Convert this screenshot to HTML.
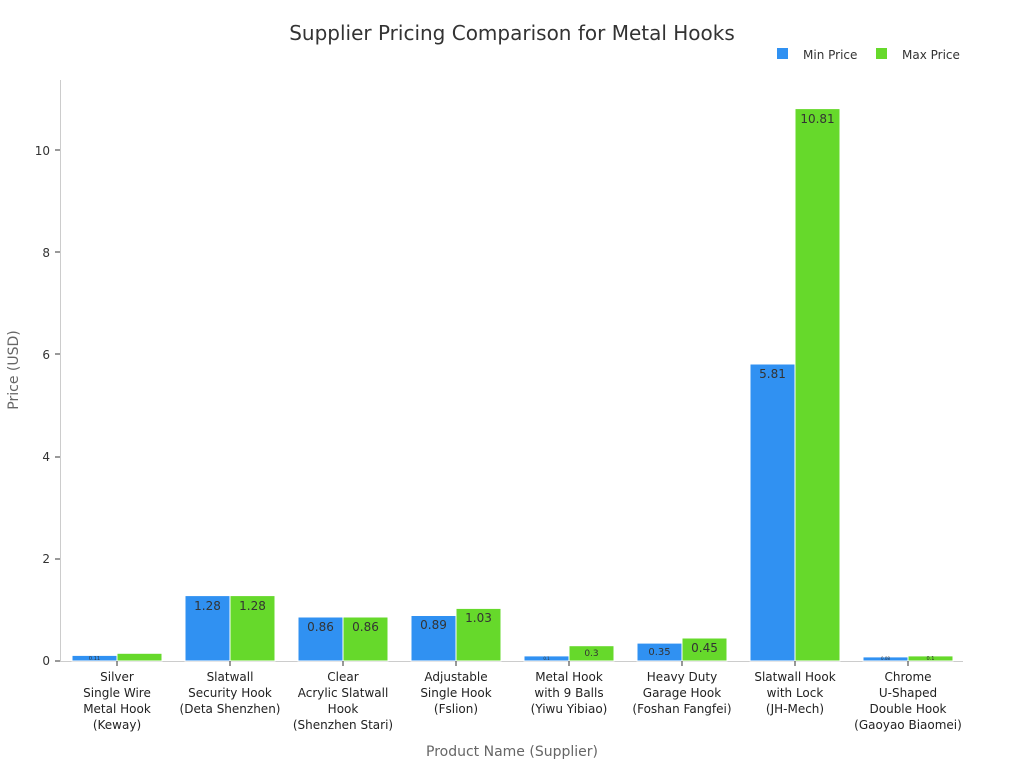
<!DOCTYPE html>
<html><head><meta charset="utf-8"><style>body{margin:0;background:#fff}svg{display:block;font-family:"DejaVu Sans","Liberation Sans",sans-serif}</style></head>
<body>
<svg width="1024" height="768" viewBox="0 0 1024 768">
<text x="512" y="40" text-anchor="middle" font-size="20" fill="#333">Supplier Pricing Comparison for Metal Hooks</text>
<rect x="777" y="48" width="11" height="11" fill="#3091f2"/><text x="803" y="59" font-size="12" fill="#333">Min Price</text>
<rect x="876" y="48" width="11" height="11" fill="#66d92b"/><text x="902" y="59" font-size="12" fill="#333">Max Price</text>
<line x1="60.5" y1="80" x2="60.5" y2="661" stroke="#ccc"/>
<line x1="60" y1="661.5" x2="963" y2="661.5" stroke="#ccc"/>
<g font-size="12" fill="#333" text-anchor="end">
<text x="50" y="665">0</text><text x="50" y="563">2</text><text x="50" y="461">4</text><text x="50" y="359">6</text><text x="50" y="257">8</text><text x="50" y="155">10</text>
</g>
<g stroke="#333"><line x1="55" y1="661" x2="60" y2="661"/><line x1="55" y1="559" x2="60" y2="559"/><line x1="55" y1="457" x2="60" y2="457"/><line x1="55" y1="354" x2="60" y2="354"/><line x1="55" y1="252" x2="60" y2="252"/><line x1="55" y1="150" x2="60" y2="150"/></g>
<text transform="translate(18,370) rotate(-90)" text-anchor="middle" font-size="14" fill="#666">Price (USD)</text>
<text x="512" y="756" text-anchor="middle" font-size="14" fill="#666">Product Name (Supplier)</text>
<g stroke="#fff" stroke-width="1">
<rect x="72" y="655.4" width="45" height="5.6" fill="#3091f2"/><rect x="117" y="653.3" width="45" height="7.7" fill="#66d92b"/>
<rect x="185" y="595.6" width="45" height="65.4" fill="#3091f2"/><rect x="230" y="595.6" width="45" height="65.4" fill="#66d92b"/>
<rect x="298" y="617" width="45" height="44" fill="#3091f2"/><rect x="343" y="617" width="45" height="44" fill="#66d92b"/>
<rect x="411" y="615.5" width="45" height="45.5" fill="#3091f2"/><rect x="456" y="608.4" width="45" height="52.6" fill="#66d92b"/>
<rect x="524" y="655.9" width="45" height="5.1" fill="#3091f2"/><rect x="569" y="645.7" width="45" height="15.3" fill="#66d92b"/>
<rect x="637" y="643.1" width="45" height="17.9" fill="#3091f2"/><rect x="682" y="638" width="45" height="23" fill="#66d92b"/>
<rect x="750" y="364" width="45" height="297" fill="#3091f2"/><rect x="795" y="108.6" width="45" height="552.4" fill="#66d92b"/>
<rect x="863" y="656.9" width="45" height="4.1" fill="#3091f2"/><rect x="908" y="655.9" width="45" height="5.1" fill="#66d92b"/>
</g>
<g fill="#333" text-anchor="middle" font-size="12">
<text x="94.5" y="660" font-size="5">0.11</text>
<text x="207.5" y="610">1.28</text><text x="252.5" y="610">1.28</text>
<text x="320.5" y="631">0.86</text><text x="365.5" y="631">0.86</text>
<text x="433.5" y="629">0.89</text><text x="478.5" y="622">1.03</text>
<text x="546.5" y="660" font-size="4">0.1</text><text x="591.5" y="656" font-size="9">0.3</text>
<text x="659.5" y="655" font-size="10">0.35</text><text x="704.5" y="652">0.45</text>
<text x="772.5" y="378">5.81</text><text x="817.5" y="123">10.81</text>
<text x="885.5" y="660" font-size="4">0.08</text><text x="930.5" y="660" font-size="5">0.1</text>
</g>
<g fill="#222" text-anchor="middle" font-size="12">
<text x="117" y="681">Silver</text><text x="117" y="697">Single Wire</text><text x="117" y="713">Metal Hook</text><text x="117" y="729">(Keway)</text>
<text x="230" y="681">Slatwall</text><text x="230" y="697">Security Hook</text><text x="230" y="713">(Deta Shenzhen)</text>
<text x="343" y="681">Clear</text><text x="343" y="697">Acrylic Slatwall</text><text x="343" y="713">Hook</text><text x="343" y="729">(Shenzhen Stari)</text>
<text x="456" y="681">Adjustable</text><text x="456" y="697">Single Hook</text><text x="456" y="713">(Fslion)</text>
<text x="569" y="681">Metal Hook</text><text x="569" y="697">with 9 Balls</text><text x="569" y="713">(Yiwu Yibiao)</text>
<text x="682" y="681">Heavy Duty</text><text x="682" y="697">Garage Hook</text><text x="682" y="713">(Foshan Fangfei)</text>
<text x="795" y="681">Slatwall Hook</text><text x="795" y="697">with Lock</text><text x="795" y="713">(JH-Mech)</text>
<text x="908" y="681">Chrome</text><text x="908" y="697">U-Shaped</text><text x="908" y="713">Double Hook</text><text x="908" y="729">(Gaoyao Biaomei)</text>
</g>
<g stroke="#333"><line x1="117" y1="661" x2="117" y2="666"/><line x1="230" y1="661" x2="230" y2="666"/><line x1="343" y1="661" x2="343" y2="666"/><line x1="456" y1="661" x2="456" y2="666"/><line x1="569" y1="661" x2="569" y2="666"/><line x1="682" y1="661" x2="682" y2="666"/><line x1="795" y1="661" x2="795" y2="666"/><line x1="908" y1="661" x2="908" y2="666"/></g>
</svg>
</body></html>
